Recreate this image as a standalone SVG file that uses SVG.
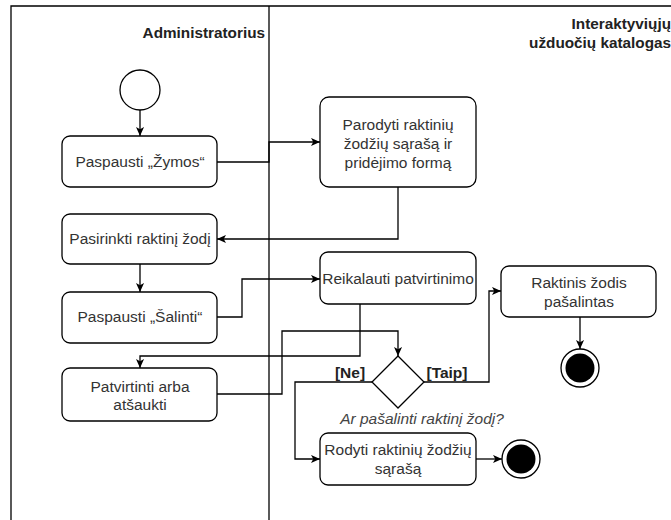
<svg xmlns="http://www.w3.org/2000/svg" width="671" height="520" viewBox="0 0 671 520">
  <style>
    .lane { fill: none; stroke: #000; stroke-width: 1.3; }
    .act { fill: #fff; stroke: #000; stroke-width: 1.3; }
    .edge { fill: none; stroke: #000; stroke-width: 1.3; }
    .t { font-family: "Liberation Sans", Arial, sans-serif; font-size: 15.5px; fill: #333; text-anchor: middle; }
    .hdr { font-family: "Liberation Sans", Arial, sans-serif; font-size: 15.3px; font-weight: bold; fill: #222; text-anchor: end; }
    .guard { font-family: "Liberation Sans", Arial, sans-serif; font-size: 15.5px; font-weight: bold; fill: #222; text-anchor: middle; }
    .note { font-family: "Liberation Sans", Arial, sans-serif; font-size: 15.5px; font-style: italic; fill: #444; text-anchor: middle; }
  </style>
  <defs>
    <marker id="arrow" viewBox="0 0 10 10" refX="10" refY="5" markerWidth="10" markerHeight="9" markerUnits="userSpaceOnUse" orient="auto">
      <path d="M0,0.5 L10,5 L0,9.5 L2.5,5 z" fill="#000"/>
    </marker>
  </defs>

  <rect width="671" height="520" fill="#fff"/>

  <!-- swimlanes -->
  <g id="lanes">
    <path class="lane" d="M11,530 L11,6 L680,6"/>
    <path class="lane" d="M269,6 L269,530"/>
    <text class="hdr" x="265" y="38">Administratorius</text>
    <text class="hdr" x="671" y="29">Interaktyviųjų</text>
    <text class="hdr" x="671" y="48">užduočių katalogas</text>
  </g>

  <!-- connectors -->
  <g id="connectors">
    <path class="edge" marker-end="url(#arrow)" d="M140,110 L140,136"/>
    <path class="edge" marker-end="url(#arrow)" d="M217,162 L269,162 L269,142 L320,142"/>
    <path class="edge" marker-end="url(#arrow)" d="M398,187 L398,239 L217,239"/>
    <path class="edge" marker-end="url(#arrow)" d="M140,264 L140,292"/>
    <path class="edge" marker-end="url(#arrow)" d="M217,317 L242,317 L242,279 L320,279"/>
    <path class="edge" marker-end="url(#arrow)" d="M360,304 L360,356 L140,356 L140,368"/>
    <path class="edge" marker-end="url(#arrow)" d="M217,394 L282,394 L282,331 L398,331 L398,356"/>
    <path class="edge" marker-end="url(#arrow)" d="M424,382 L489,382 L489,291 L501,291"/>
    <path class="edge" marker-end="url(#arrow)" d="M580,317 L580,349"/>
    <path class="edge" marker-end="url(#arrow)" d="M372,382 L295,382 L295,459 L320,459"/>
    <path class="edge" marker-end="url(#arrow)" d="M476,459 L502,459"/>
    <text class="guard" x="350" y="378">[Ne]</text>
    <text class="guard" x="447" y="378">[Taip]</text>
  </g>

  <!-- nodes -->
  <g id="start">
    <circle class="act" cx="140" cy="90" r="20"/>
  </g>

  <g id="paspausti-zymos">
    <rect class="act" x="62" y="136" width="155" height="51" rx="8"/>
    <text class="t" x="140" y="167">Paspausti  „Žymos“</text>
  </g>

  <g id="parodyti">
    <rect class="act" x="320" y="97" width="156" height="90" rx="9"/>
    <text class="t" x="398" y="130">Parodyti raktinių</text>
    <text class="t" x="398" y="149">žodžių sąrašą ir</text>
    <text class="t" x="398" y="168">pridėjimo formą</text>
  </g>

  <g id="pasirinkti">
    <rect class="act" x="62" y="214" width="155" height="50" rx="8"/>
    <text class="t" x="140" y="244">Pasirinkti raktinį žodį</text>
  </g>

  <g id="paspausti-salinti">
    <rect class="act" x="62" y="292" width="155" height="51" rx="8"/>
    <text class="t" x="140" y="322">Paspausti  „Šalinti“</text>
  </g>

  <g id="reikalauti">
    <rect class="act" x="320" y="252" width="156" height="52" rx="8"/>
    <text class="t" x="398" y="284">Reikalauti patvirtinimo</text>
  </g>

  <g id="patvirtinti">
    <rect class="act" x="62" y="368" width="155" height="53" rx="8"/>
    <text class="t" x="140" y="392">Patvirtinti arba</text>
    <text class="t" x="140" y="410">atšaukti</text>
  </g>

  <g id="sprendimas">
    <polygon class="act" points="398,356 424,382 398,408 372,382"/>
    <text class="note" x="422" y="424">Ar pašalinti raktinį žodį?</text>
  </g>

  <g id="raktinis-pasalintas">
    <rect class="act" x="501" y="266" width="155" height="51" rx="8"/>
    <text class="t" x="579" y="288">Raktinis žodis</text>
    <text class="t" x="579" y="307">pašalintas</text>
  </g>

  <g id="pabaiga-1">
    <circle class="act" cx="580" cy="368" r="19"/>
    <circle cx="580" cy="368" r="14.5" fill="#000"/>
  </g>

  <g id="rodyti">
    <rect class="act" x="320" y="433" width="156" height="52" rx="8"/>
    <text class="t" x="398" y="455">Rodyti raktinių žodžių</text>
    <text class="t" x="398" y="474">sąrašą</text>
  </g>

  <g id="pabaiga-2">
    <circle class="act" cx="521" cy="459" r="19"/>
    <circle cx="521" cy="459" r="14.5" fill="#000"/>
  </g>
</svg>
